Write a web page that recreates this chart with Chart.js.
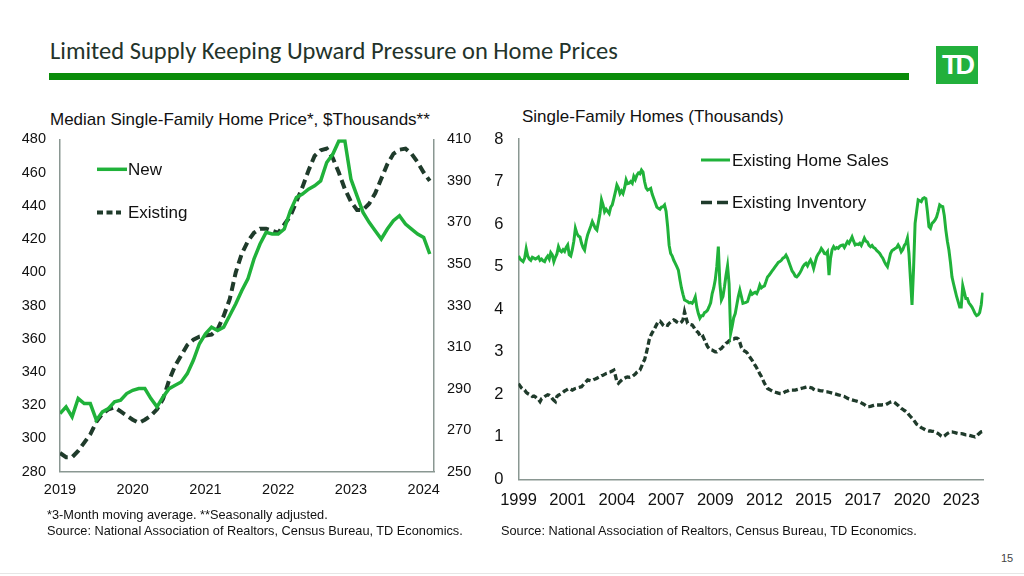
<!DOCTYPE html>
<html>
<head>
<meta charset="utf-8">
<script src="https://cdn.jsdelivr.net/npm/chart.js@4.4.1/dist/chart.umd.min.js"></script>
<style>
  html, body { margin: 0; padding: 0; background: #fff; }
  body { width: 1024px; height: 576px; position: relative; overflow: hidden;
         font-family: "Liberation Sans", Arial, sans-serif; color: #111; }
  .abs { position: absolute; white-space: nowrap; }
  #title { left: 50px; top: 36px; font-family: Carlito, Lato, "Open Sans", sans-serif; font-size: 24.5px; color: #23332a; }
  #bar { left: 49px; top: 73px; width: 860px; height: 7px; background: #0a8c0a; }
  #logo { left: 936px; top: 46px; width: 42px; height: 38px; background: #22b03c; color: #fff;
          font: bold 27px "Liberation Sans", Arial, sans-serif; letter-spacing: -3px; text-align: center; line-height: 38px; }
  .sub { font-size: 17px; line-height: 18px; }
  .note { font-size: 12.75px; line-height: 14px; }
  #pageNo { left: 1001px; top: 552px; font-size: 11px; color: #444; }
  #foot { left: 0; top: 573px; width: 1024px; height: 1px; background: #e6e6e6; }
  canvas { position: absolute; }
</style>
</head>
<body>
<div id="title" class="abs">Limited Supply Keeping Upward Pressure on Home Prices</div>
<div id="bar" class="abs"></div>
<div id="logo" class="abs">TD</div>

<div class="abs sub" style="left:50px; top:111px;">Median Single-Family Home Price*, $Thousands**</div>
<div class="abs sub" style="left:522px; top:108px;">Single-Family Homes (Thousands)</div>

<canvas id="priceChart" width="480" height="420" style="left:0; top:100px;"></canvas>
<canvas id="salesChart" width="544" height="420" style="left:480px; top:100px;"></canvas>

<div class="abs note" style="left:47px; top:508px;">*3-Month moving average. **Seasonally adjusted.</div>
<div class="abs note" style="left:47px; top:524px;">Source: National Association of Realtors, Census Bureau, TD Economics.</div>
<div class="abs note" style="left:501px; top:524px;">Source: National Association of Realtors, Census Bureau, TD Economics.</div>
<div id="pageNo" class="abs">15</div>
<div id="foot" class="abs"></div>

<script>
// left chart: monthly, Jan 2019 - Feb 2024
const priceYears = ['2019', '2020', '2021', '2022', '2023', '2024'];
const newHomePrice = [
  315, 319, 313, 324, 321, 321, 311, 316, 318, 322, 323, 327,
  329, 330, 330, 324, 319, 325, 330, 332, 334, 339, 347, 357,
  363, 367, 365, 367, 374, 381, 389, 396, 408, 417, 424, 423,
  423, 426, 437, 445, 447, 450, 452, 455, 466, 471, 479, 479,
  456, 446, 436, 430, 425, 420, 426, 431, 434, 429, 426, 423,
  421, 411
];
const existingHomePrice = [
  259, 257, 257, 260, 264, 268, 274, 278, 280, 281, 279, 277,
  275, 273.5, 275, 277, 280, 285, 294, 301, 306, 311, 313.5, 315,
  315.5, 316, 318.5, 325, 333, 346, 355, 361, 365, 367, 367, 366,
  365, 369, 373, 380, 387, 395, 402, 404.7, 405.5, 401, 394, 386,
  380, 376, 376, 379, 384, 391, 398, 403, 405, 405.5, 403, 399,
  394, 390
];

// right chart: monthly, Jan 1999 - Mar 2024, labels every 32 months
const salesYears = ['1999', '2001', '2004', '2007', '2009', '2012', '2015', '2017', '2020', '2023'];
const existingSales = [
  5.25, 5.18, 5.15, 5.12, 5.2, 5.42, 5.25, 5.18, 5.15, 5.22, 5.2, 5.18,
  5.2, 5.23, 5.15, 5.18, 5.14, 5.12, 5.2, 5.25, 5.18, 5.33, 5.28, 5.12,
  5.22, 5.3, 5.47, 5.38, 5.35, 5.4, 5.36, 5.45, 5.51, 5.28, 5.25, 5.4,
  5.6, 5.9, 5.78, 5.72, 5.7, 5.55, 5.45, 5.39, 5.6, 5.75, 5.85, 5.95,
  6.06, 5.98, 5.9, 5.86, 6.05, 6.25, 6.57, 6.45, 6.29, 6.35, 6.3, 6.25,
  6.4, 6.45, 6.6, 6.75, 6.92, 6.85, 6.72, 6.78, 6.72, 6.85, 7.04, 6.95,
  6.96, 7.0, 6.96, 7.12, 7.05, 7.15, 7.2, 7.18, 7.27, 7.22, 7.0, 6.85,
  6.8, 6.82, 6.84, 6.7, 6.6, 6.5, 6.4, 6.37, 6.35, 6.4, 6.41, 6.45,
  6.3, 5.95, 5.5, 5.31, 5.25, 5.15, 5.08, 5.0, 4.92, 4.7, 4.5, 4.35,
  4.22, 4.2, 4.18, 4.15, 4.16, 4.14, 4.2, 4.29, 4.05, 3.9, 3.79, 3.85,
  3.85, 3.92, 3.94, 3.98, 4.06, 4.15, 4.37, 4.5, 4.69, 5.0, 5.47, 4.6,
  4.22, 4.3, 4.53, 4.8, 5.02, 4.6, 3.43, 3.6, 3.8, 3.9, 4.1, 4.3,
  4.45, 4.3, 4.14, 4.15, 4.16, 4.18, 4.3, 4.41, 4.35, 4.38, 4.4, 4.37,
  4.45, 4.57, 4.5, 4.53, 4.55, 4.65, 4.76, 4.8, 4.85, 4.9, 4.95, 5.0,
  5.05, 5.1, 5.12, 5.15, 5.2, 5.22, 5.27, 5.2, 5.1, 5.0, 4.9, 4.85,
  4.78, 4.76, 4.8, 4.85, 4.92, 5.0, 5.05, 5.08, 5.02, 5.1, 5.16, 5.08,
  4.96, 5.1, 5.23, 5.3, 5.35, 5.43, 5.38, 5.31, 5.3, 5.35, 4.8, 5.2,
  5.4, 5.47, 5.42, 5.45, 5.43, 5.48, 5.5, 5.51, 5.45, 5.52, 5.59, 5.55,
  5.62, 5.7, 5.6, 5.51, 5.53, 5.52, 5.55, 5.5, 5.58, 5.67, 5.6, 5.58,
  5.5, 5.47, 5.5, 5.45, 5.43, 5.38, 5.35, 5.31, 5.25, 5.2, 5.12, 5.05,
  5.0, 5.15, 5.31, 5.38, 5.4, 5.43, 5.45, 5.51, 5.45, 5.35, 5.4, 5.5,
  5.55, 5.67, 5.31, 4.7, 4.1, 4.95, 6.02, 6.3, 6.57, 6.55, 6.53, 6.6,
  6.62, 6.6, 6.3, 5.94, 5.9, 6.02, 6.05, 6.1, 6.17, 6.3, 6.45, 6.42,
  6.41, 6.2, 5.86, 5.6, 5.39, 5.1, 4.76, 4.6, 4.45, 4.3, 4.18, 4.05,
  4.05, 4.55, 4.4, 4.25, 4.25, 4.15, 4.1, 4.05, 3.98, 3.9, 3.85, 3.87,
  3.92, 4.1, 4.39
];
const existingInventory = [
  2.25, 2.2, 2.15, 2.12, 2.1, 2.05, 2.02, 2.0, 1.98, 1.95, 1.96, 1.94,
  1.9, 1.88, 1.83, 1.9, 1.92, 1.95, 1.97, 1.99, 1.98, 1.95, 1.9, 1.86,
  1.83, 1.95, 1.98, 2.0, 2.02, 2.05, 2.08, 2.1, 2.12, 2.14, 2.12, 2.1,
  2.12, 2.14, 2.15, 2.16, 2.17, 2.18, 2.22, 2.26, 2.3, 2.34, 2.33, 2.32,
  2.33, 2.35, 2.36, 2.38, 2.4, 2.42, 2.44, 2.45, 2.47, 2.49, 2.5, 2.52,
  2.53, 2.55, 2.57, 2.45, 2.3, 2.26, 2.3, 2.33, 2.36, 2.38, 2.4, 2.41,
  2.4, 2.41, 2.42, 2.45, 2.48, 2.52, 2.55, 2.57, 2.65, 2.75, 2.81, 2.95,
  3.1, 3.28, 3.38, 3.45, 3.51, 3.58, 3.65, 3.71, 3.72, 3.68, 3.63, 3.6,
  3.63, 3.62, 3.67, 3.7, 3.72, 3.75, 3.73, 3.7, 3.68, 3.67, 3.7, 3.75,
  3.94, 3.8, 3.67, 3.65, 3.64, 3.63, 3.58, 3.52, 3.48, 3.45, 3.38, 3.33,
  3.36, 3.28, 3.2, 3.12, 3.08, 3.05, 3.04, 3.02, 3.0, 3.0, 3.03, 3.06,
  3.08, 3.12, 3.16, 3.2, 3.22, 3.26, 3.28, 3.3, 3.3, 3.32, 3.32, 3.3,
  3.22, 3.1, 3.04, 3.02, 3.0, 2.96, 2.9, 2.85, 2.8, 2.73, 2.68, 2.62,
  2.55, 2.48, 2.42, 2.34, 2.26, 2.2, 2.14, 2.12, 2.1, 2.08, 2.06, 2.05,
  2.04, 2.03, 2.02, 2.02, 2.03, 2.05, 2.07, 2.08, 2.1, 2.1, 2.1, 2.1,
  2.1, 2.11, 2.12, 2.13, 2.14, 2.15, 2.16, 2.17, 2.18, 2.17, 2.16, 2.15,
  2.12, 2.1, 2.1, 2.1, 2.09, 2.08, 2.08, 2.07, 2.06, 2.06, 2.05, 2.04,
  2.03, 2.02, 2.01, 2.0, 1.99, 1.98, 1.97, 1.96, 1.95, 1.93, 1.91, 1.89,
  1.88, 1.87, 1.86, 1.85, 1.84, 1.83, 1.82, 1.8, 1.78, 1.76, 1.73, 1.71,
  1.71, 1.72, 1.73, 1.74, 1.75, 1.75, 1.75, 1.75, 1.75, 1.76, 1.76, 1.76,
  1.78, 1.8, 1.82, 1.83, 1.82, 1.8, 1.77, 1.74, 1.7, 1.67, 1.65, 1.62,
  1.6, 1.57, 1.52, 1.48, 1.44, 1.4, 1.35, 1.3, 1.28, 1.25, 1.22, 1.2,
  1.18, 1.16, 1.15, 1.14, 1.14, 1.13, 1.13, 1.12, 1.1, 1.08, 1.05, 1.02,
  1.0, 1.02, 1.05, 1.08, 1.1, 1.12, 1.12, 1.11, 1.1, 1.09, 1.08, 1.08,
  1.08, 1.07, 1.06, 1.05, 1.05, 1.04, 1.03, 1.02, 1.01, 1.0, 1.02, 1.06,
  1.09, 1.12, 1.13
];

const GREEN = '#20b23a';
const DARK = '#1f3b2b';
const AXIS = '#8a9792';
const FONT = '"Liberation Sans", Arial, sans-serif';

Chart.defaults.font.family = FONT;
Chart.defaults.color = '#111';

const toPoints = arr => arr.map((v, i) => ({ x: i, y: v }));

// draws the little key (line sample + label) inside the plot
function keyLegend(items) {
  return {
    id: 'keyLegend',
    afterDraw(chart) {
      const ctx = chart.ctx;
      ctx.save();
      items.forEach(it => {
        const ds = chart.data.datasets[it.ds];
        ctx.beginPath();
        ctx.setLineDash(it.dash || []);
        ctx.strokeStyle = ds.borderColor;
        ctx.lineWidth = ds.borderWidth;
        ctx.moveTo(it.x0, it.y);
        ctx.lineTo(it.x1, it.y);
        ctx.stroke();
        ctx.setLineDash([]);
        ctx.fillStyle = '#111';
        ctx.font = '17px ' + FONT;
        ctx.textBaseline = 'middle';
        ctx.fillText(ds.label, it.tx, it.y + 1);
      });
      ctx.restore();
    }
  };
}

const noGrid = { display: false, drawTicks: false };

new Chart(document.getElementById('priceChart'), {
  type: 'line',
  data: {
    datasets: [
      { label: 'New', data: toPoints(newHomePrice), yAxisID: 'y',
        borderColor: GREEN, borderWidth: 3.5, pointRadius: 0, tension: 0 },
      { label: 'Existing', data: toPoints(existingHomePrice), yAxisID: 'y1',
        borderColor: DARK, borderWidth: 4, borderDash: [9, 5], pointRadius: 0, tension: 0 }
    ]
  },
  options: {
    responsive: false,
    animation: false,
    layout: { padding: { top: 39.3, left: 0, right: 0, bottom: 0 } },
    plugins: { legend: { display: false }, tooltip: { enabled: false } },
    scales: {
      x: {
        type: 'linear', min: 0, max: 61.7,
        grid: noGrid,
        border: { color: AXIS, width: 1.5 },
        ticks: { padding: 10, font: { size: 14.5 }, callback: v => priceYears[v / 12] },
        afterBuildTicks: s => { s.ticks = priceYears.map((y, k) => ({ value: k * 12 })); },
        afterFit: s => { s.height = 48.3; }
      },
      y: {
        position: 'left', min: 280, max: 480,
        grid: noGrid,
        border: { color: AXIS, width: 1.5 },
        ticks: { stepSize: 20, padding: 14, font: { size: 14.5 } },
        afterFit: s => { s.width = 60; }
      },
      y1: {
        position: 'right', min: 250, max: 410,
        grid: noGrid,
        border: { color: AXIS, width: 1.5 },
        ticks: { stepSize: 20, padding: 13, font: { size: 14.5 } },
        afterFit: s => { s.width = 46; }
      }
    }
  },
  plugins: [keyLegend([
    { ds: 0, x0: 97, x1: 127, y: 69.3, tx: 128 },
    { ds: 1, x0: 97, x1: 121, y: 112.5, tx: 128, dash: [6, 3.5] }
  ])]
});

new Chart(document.getElementById('salesChart'), {
  type: 'line',
  data: {
    datasets: [
      { label: 'Existing Home Sales', data: toPoints(existingSales),
        borderColor: GREEN, borderWidth: 3, pointRadius: 0, tension: 0 },
      { label: 'Existing Inventory', data: toPoints(existingInventory),
        borderColor: DARK, borderWidth: 3.3, borderDash: [6, 3], pointRadius: 0, tension: 0 }
    ]
  },
  options: {
    responsive: false,
    animation: false,
    layout: { padding: { top: 39, left: 0, right: 40.5, bottom: 0 } },
    plugins: { legend: { display: false }, tooltip: { enabled: false } },
    scales: {
      x: {
        type: 'linear', min: 0, max: 302.5,
        grid: noGrid,
        border: { color: AXIS, width: 1.5 },
        ticks: { padding: 11, font: { size: 16.5 }, callback: v => salesYears[v / 32] },
        afterBuildTicks: s => { s.ticks = salesYears.map((y, k) => ({ value: k * 32 })); },
        afterFit: s => { s.height = 40.5; }
      },
      y: {
        min: 0, max: 8,
        grid: noGrid,
        border: { color: AXIS, width: 1.5 },
        ticks: { stepSize: 1, padding: 15, font: { size: 16.5 } },
        afterFit: s => { s.width = 38.5; }
      }
    }
  },
  plugins: [keyLegend([
    { ds: 0, x0: 221, x1: 250, y: 60, tx: 252 },
    { ds: 1, x0: 221, x1: 250, y: 102.5, tx: 252, dash: [11, 5] }
  ])]
});
</script>
</body>
</html>
